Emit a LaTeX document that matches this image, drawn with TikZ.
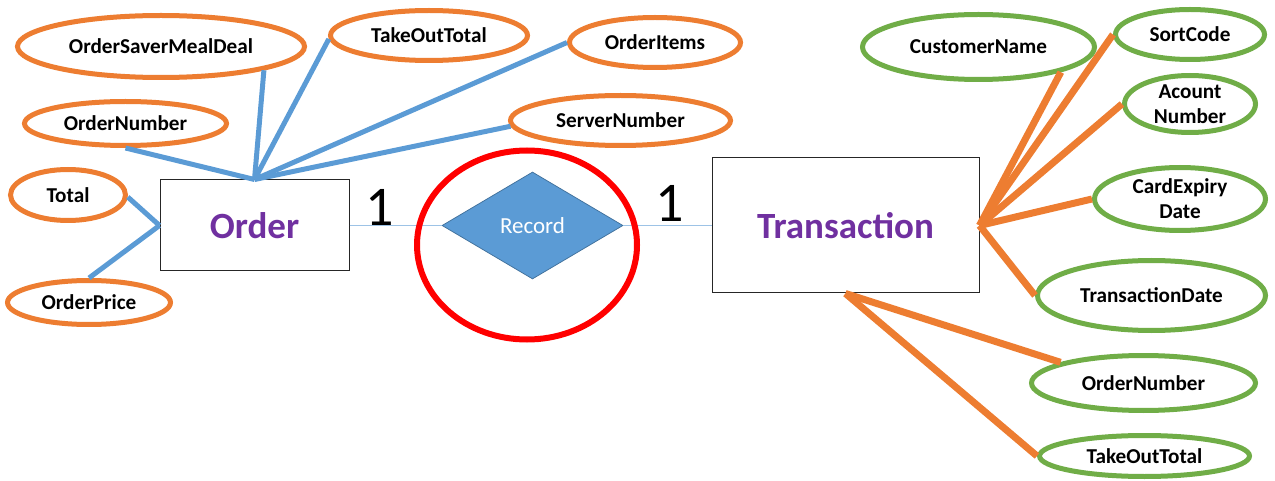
\documentclass[tikz,border=0pt]{standalone}
\usepackage{fontspec}
\setmainfont{Carlito}
\usetikzlibrary{shapes.geometric}
\definecolor{attrorange}{HTML}{ED7D31}
\definecolor{attrgreen}{HTML}{70AD47}
\definecolor{linkblue}{HTML}{5B9BD5}
\definecolor{relborder}{HTML}{41719C}
\definecolor{thinblue}{HTML}{9DC3E6}
\definecolor{entpurple}{HTML}{7030A0}

\begin{document}
\begin{tikzpicture}[x=1pt,y=-1pt,
  attr/.style={ellipse, line width=5pt, inner sep=0pt, fill=white},
  oattr/.style={attr, draw=attrorange},
  gattr/.style={attr, draw=attrgreen},
  attrtext/.style={font=\fontsize{21.2}{25}\selectfont\bfseries, align=center, inner sep=0pt},
  entity/.style={draw=black!85, line width=1pt, fill=white, inner sep=0pt,
    font=\fontsize{37}{44}\selectfont\bfseries, text=entpurple},
  bluelink/.style={draw=linkblue, line width=5pt},
  orangelink/.style={draw=attrorange, line width=7pt},
  rellink/.style={draw=thinblue, line width=1.2pt},
  cardinality/.style={font=\fontsize{56}{60}\selectfont, anchor=base, inner sep=0pt}
]
\useasboundingbox (0,0) rectangle (1275,481);

% entities and relationship
\node[entity, minimum width=189pt, minimum height=91pt] (order) at (254.5,225.5) {Order};
\node[entity, minimum width=267pt, minimum height=135pt] (trans) at (845.5,225.5) {Transaction};
\node[diamond, fill=linkblue, draw=relborder, line width=0.75pt, minimum width=181pt,
  minimum height=107pt, inner sep=0pt, text=white, font=\fontsize{23}{28}\selectfont]
  (rec) at (532.5,225.5) {Record};

% attributes of Order
\node[oattr, minimum width=287pt, minimum height=62pt, label={[attrtext]center:OrderSaverMealDeal}] (osmd) at (161,46.5) {};
\node[oattr, minimum width=197pt, minimum height=50pt, label={[attrtext]center:TakeOutTotal}] (otot) at (429,35.5) {};
\node[oattr, minimum width=171pt, minimum height=50pt, label={[attrtext]center:OrderItems}] (oitems) at (655,42.5) {};
\node[oattr, minimum width=220pt, minimum height=50pt, label={[attrtext]center:ServerNumber}] (oserver) at (620.5,120.5) {};
\node[oattr, minimum width=202pt, minimum height=44pt, label={[attrtext]center:OrderNumber}] (onum) at (125.5,123.5) {};
\node[oattr, minimum width=115pt, minimum height=51pt, label={[attrtext]center:Total}] (ototal) at (68,195) {};
\node[oattr, minimum width=163pt, minimum height=44pt, label={[attrtext]center:OrderPrice}] (oprice) at (89,302.5) {};

% attributes of Transaction
\node[gattr, minimum width=232pt, minimum height=65pt, label={[attrtext]center:CustomerName}] (tcust) at (978.5,47) {};
\node[gattr, minimum width=149pt, minimum height=50pt, label={[attrtext]center:SortCode}] (tsort) at (1190,34.5) {};
\node[gattr, minimum width=131pt, minimum height=57pt, label={[attrtext]center:Acount\\Number}] (tacc) at (1190,104) {};
\node[gattr, minimum width=171pt, minimum height=63pt, label={[attrtext]center:CardExpiry\\Date}] (tcard) at (1180,199) {};
\node[gattr, minimum width=228pt, minimum height=70pt, label={[attrtext]center:TransactionDate}] (tdate) at (1151.5,295.5) {};
\node[gattr, minimum width=224pt, minimum height=55pt, label={[attrtext]center:OrderNumber}] (tnum) at (1143.5,383) {};
\node[gattr, minimum width=210pt, minimum height=41pt, label={[attrtext]center:TakeOutTotal}] (ttot) at (1144.5,456) {};

% attribute links
\coordinate (ohub) at (order.north);
\coordinate (ohubw) at (order.west);
\coordinate (thube) at (trans.east);
\coordinate (thubs) at (trans.south);

\draw[bluelink] (ohub) -- (osmd.-13);
\draw[bluelink] (ohub) -- (otot.182);
\draw[bluelink] (ohub) -- (oitems.180);
\draw[bluelink] (ohub) -- (oserver.183);
\draw[bluelink] (ohub) -- (onum.-90);
\draw[bluelink] (ohubw) -- (ototal.-2);
\draw[bluelink] (ohubw) -- (oprice.90);

\draw[orangelink] (thube) -- (tcust.-17);
\draw[orangelink] (thube) -- (tsort.180);
\draw[orangelink] (thube) -- (tacc.180);
\draw[orangelink] (thube) -- (tcard.180);
\draw[orangelink] (thube) -- (tdate.180);
\draw[orangelink] (thubs) -- (tnum.166);
\draw[orangelink] (thubs) -- (ttot.180);

% relationship links and cardinalities
\draw[rellink] (order.east) -- (rec.west);
\draw[rellink] (rec.east) -- (trans.west);
\node[cardinality] (cardl) at (379.5,226) {1};
\node[cardinality] (cardr) at (669.5,222) {1};

% highlight around the relationship
\node[ellipse, draw=red, line width=6pt, minimum width=220pt, minimum height=189pt, inner sep=0pt] (focus) at (527,245) {};
\end{tikzpicture}
\end{document}
